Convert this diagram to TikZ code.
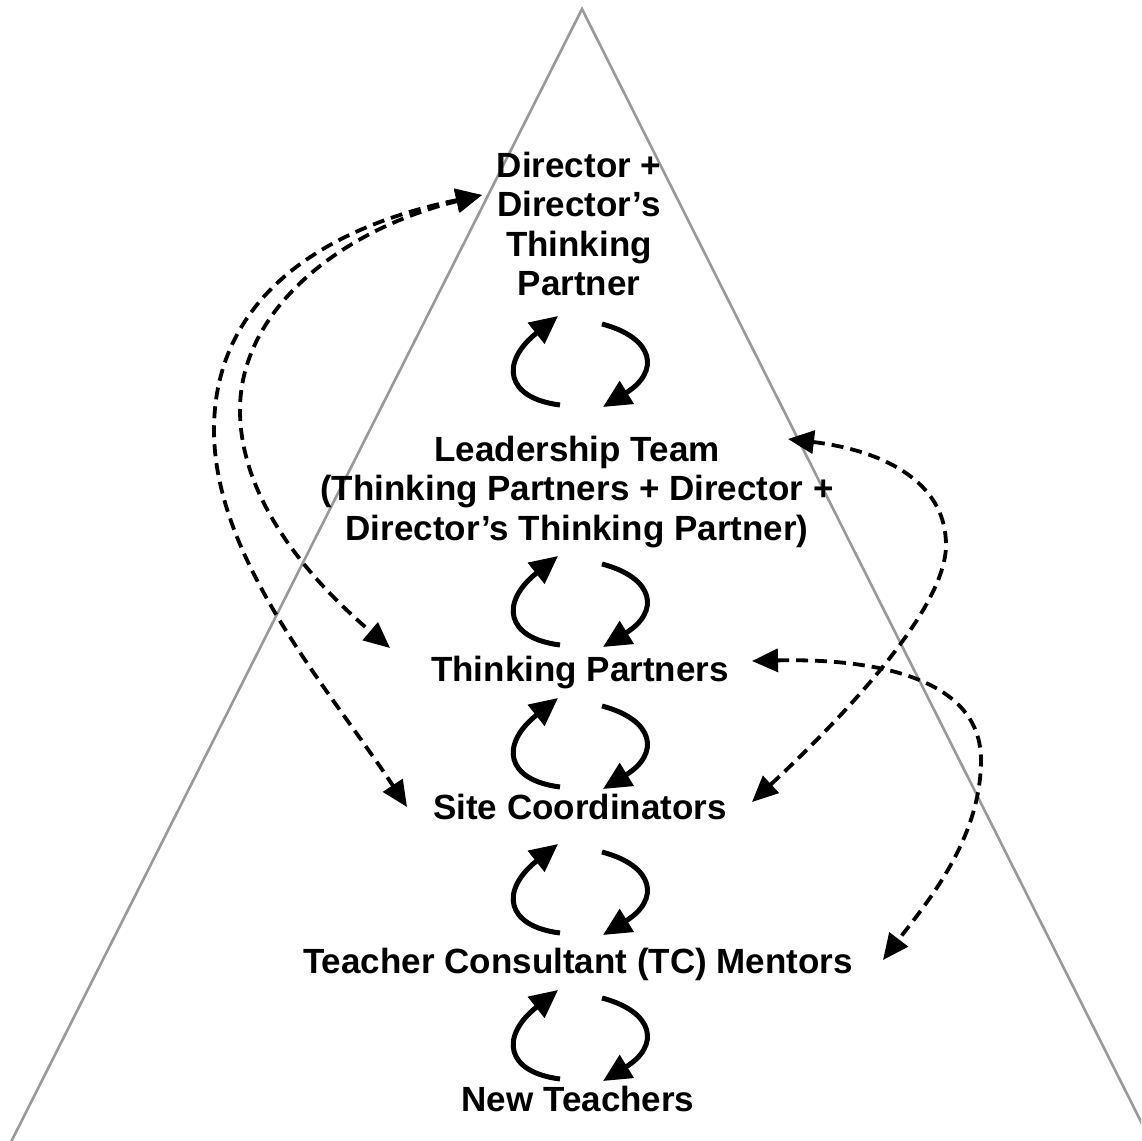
\documentclass[tikz,border=0pt]{standalone}
\usepackage{fontspec}
\setmainfont{Liberation Sans}
\usetikzlibrary{arrows.meta}
\begin{document}
\begin{tikzpicture}[x=0.5pt,y=-0.5pt,
  lbl/.style={font=\fontsize{17.5}{19.6}\selectfont\bfseries, inner sep=0pt, align=center},
  tri/.style={draw={rgb,255:red,153;green,153;blue,153}, line width=1.3pt},
  cyc/.style={line width=2.5pt, -{Triangle[length=14pt,width=13pt]}},
  dsh/.style={line width=1.9pt, dash pattern=on 6pt off 3.5pt,
    {Triangle[length=13pt,width=11.5pt]}-{Triangle[length=13pt,width=11.5pt]}}]
\clip (0,0) rectangle (1141,1141);
\fill[white] (0,0) rectangle (1141,1141);
% pyramid
\draw[tri] (582,9) -- (9.5,1145) -- (1152.7,1145) -- cycle;
% levels
\node[lbl, anchor=north] (dir) at (579,152) {Director +\\Director’s\\Thinking\\Partner};
\node[lbl, anchor=north] (lead) at (577,436) {Leadership Team\\(Thinking Partners + Director +\\Director’s Thinking Partner)};
\node[lbl, anchor=base] (tp) at (580,681) {Thinking Partners};
\node[lbl, anchor=base] (sc) at (580,819) {Site Coordinators};
\node[lbl, anchor=base] (tc) at (578,973) {Teacher Consultant (TC) Mentors};
\node[lbl, anchor=base] (nt) at (578,1111) {New Teachers};
% cycle arrows between levels
\foreach \y in {316,556,698,844,990}{
  \draw[cyc] (560,\y+89) .. controls (505,\y+82) and (500,\y+46) .. (558,\y);
  \draw[cyc] (602,\y+8) .. controls (655,\y+22) and (660,\y+56) .. (603,\y+91);
}
% dashed links
\coordinate (dirE) at (482,195);
\coordinate (tpW) at (390,648);
\coordinate (scW) at (407,807);
\coordinate (leadE) at (788,439);
\coordinate (scE) at (752,802);
\coordinate (tpE) at (752,661);
\coordinate (tcE) at (883,960);
\draw[dsh] (dirE) .. controls (320,228) and (214,300) .. (214,430) .. controls (214,560) and (330,690) .. (scW);
\draw[dsh] (dirE) .. controls (340,230) and (240,310) .. (240,410) .. controls (240,500) and (310,580) .. (tpW);
\draw[dsh] (leadE) .. controls (880,450) and (946,480) .. (946,545) .. controls (946,610) and (840,720) .. (scE);
\draw[dsh] (tpE) .. controls (880,658) and (981,680) .. (981,760) .. controls (981,840) and (925,905) .. (tcE);
\end{tikzpicture}
\end{document}
